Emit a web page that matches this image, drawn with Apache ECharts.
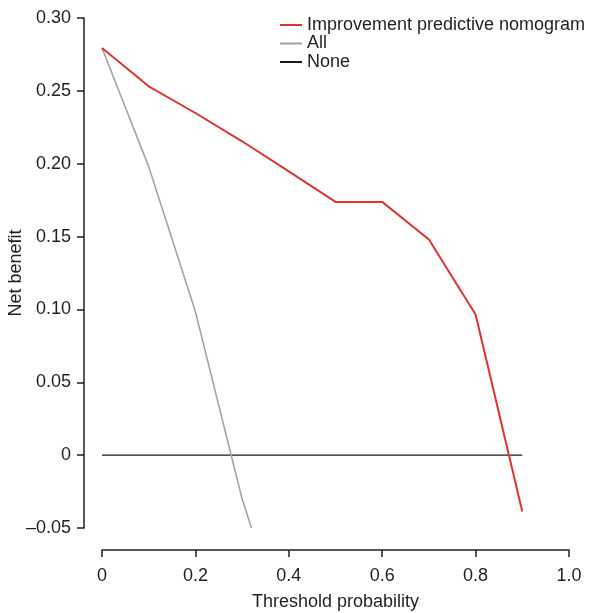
<!DOCTYPE html>
<html>
<head>
<meta charset="utf-8">
<script src="https://cdn.jsdelivr.net/npm/echarts@6/dist/echarts.min.js"></script>
<style>
  html, body { margin: 0; padding: 0; background: #fff; }
  #main { width: 595px; height: 613px; }
</style>
</head>
<body>
<div id="main"></div>
<script>
// threshold probabilities and net benefit
const thresholds = [0, 0.1, 0.2, 0.3, 0.4, 0.5, 0.6, 0.7, 0.8, 0.9];
const nomogram = [0.2794, 0.2531, 0.2348, 0.2154, 0.1948, 0.1738, 0.1738, 0.148, 0.0965, -0.0387];
const allX = [0, 0.1, 0.2, 0.3, 0.32];
const allY = [0.2794, 0.198, 0.0985, -0.030, -0.05];
const noneX = [0, 0.9];
const noneY = [0, 0];
const names = ['Improvement predictive nomogram', 'All', 'None'];

const axisColor = '#231f20';
const font = 'Liberation Sans, Arial, sans-serif';

function pairs(xs, ys) {
  return xs.map((x, i) => [x, ys[i]]);
}

const chart = echarts.init(document.getElementById('main'));
chart.setOption({
  backgroundColor: '#fff',
  animation: false,
  grid: { left: 102, right: 26, top: 18, bottom: 85, containLabel: false, outerBoundsMode: 'none' },
  legend: {
    data: names,
    orient: 'vertical',
    left: 280,
    top: 16,
    padding: 0,
    itemWidth: 22,
    itemHeight: 2,
    itemGap: 0.5,
    icon: 'rect',
    textStyle: { fontFamily: font, fontSize: 18, color: axisColor, lineHeight: 18 }
  },
  xAxis: {
    type: 'value',
    min: 0,
    max: 1,
    interval: 0.2,
    offset: 22,
    name: 'Threshold probability',
    nameLocation: 'middle',
    nameGap: 43,
    nameMoveOverlap: false,
    nameTextStyle: { fontFamily: font, fontSize: 18, color: axisColor },
    axisLine: { show: true, onZero: false, lineStyle: { color: axisColor, width: 1.5 } },
    axisTick: { show: true, inside: false, length: 7, lineStyle: { color: axisColor, width: 1.5 } },
    axisLabel: {
      fontFamily: font, fontSize: 18, color: axisColor, margin: 17,
      formatter: v => (v === 0 ? '0' : v.toFixed(1))
    },
    splitLine: { show: false }
  },
  yAxis: {
    type: 'value',
    min: -0.05,
    max: 0.3,
    interval: 0.05,
    offset: 18,
    name: 'Net benefit',
    nameLocation: 'middle',
    nameGap: 59,
    nameMoveOverlap: false,
    nameTextStyle: { fontFamily: font, fontSize: 18, color: axisColor },
    axisLine: { show: true, onZero: false, lineStyle: { color: axisColor, width: 1.5 } },
    axisTick: { show: true, inside: false, length: 7, lineStyle: { color: axisColor, width: 1.5 } },
    axisLabel: {
      fontFamily: font, fontSize: 18, color: axisColor, margin: 13,
      formatter: function (v) {
        if (Math.abs(v) < 1e-9) return '0';
        if (v < 0) return '\u2013' + Math.abs(v).toFixed(2);
        return v.toFixed(2);
      }
    },
    splitLine: { show: false }
  },
  series: [
    {
      name: names[0],
      type: 'line',
      symbol: 'none',
      color: '#e0342b',
      lineStyle: { width: 2, color: '#e0342b' },
      data: pairs(thresholds, nomogram),
      z: 3
    },
    {
      name: names[1],
      type: 'line',
      symbol: 'none',
      color: '#a3a3a3',
      lineStyle: { width: 1.6, color: '#a3a3a3' },
      data: pairs(allX, allY),
      z: 2
    },
    {
      name: names[2],
      type: 'line',
      symbol: 'none',
      color: '#1a1a1a',
      lineStyle: { width: 1.2, color: '#1a1a1a' },
      data: pairs(noneX, noneY),
      z: 1
    }
  ]
});
</script>
</body>
</html>
